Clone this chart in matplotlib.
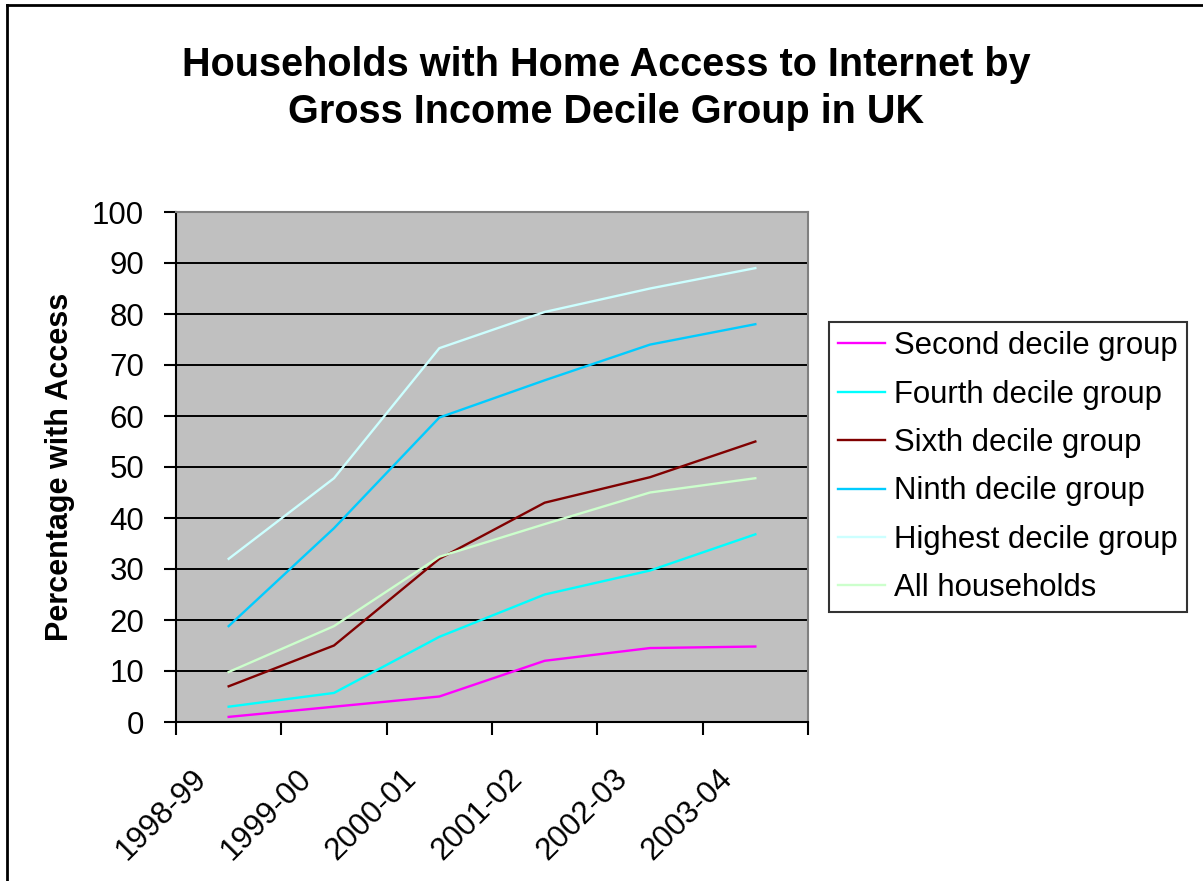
import matplotlib
matplotlib.use('Agg')
import matplotlib.pyplot as plt
import matplotlib.transforms as mtransforms
from matplotlib.lines import Line2D
import numpy as np

plt.rcParams['font.family'] = ['Liberation Sans', 'DejaVu Sans']

years = ['1998-99', '1999-00', '2000-01', '2001-02', '2002-03', '2003-04']

second = [1, 3, 5, 12, 14.5, 14.8]
fourth = [3, 5.7, 16.7, 25, 29.7, 36.8]
sixth = [7, 15, 32, 43, 48, 55]
ninth = [18.8, 38, 59.7, 67, 74, 78]
highest = [32, 47.8, 73.3, 80.4, 85, 89]
all_hh = [9.8, 18.8, 32.4, 38.8, 45, 47.8]

series = [
    ('Second decile group', second, '#FF00FF'),
    ('Fourth decile group', fourth, '#00FFFF'),
    ('Sixth decile group', sixth, '#800000'),
    ('Ninth decile group', ninth, '#00CCFF'),
    ('Highest decile group', highest, '#CCFFFF'),
    ('All households', all_hh, '#CCFFCC'),
]

W, H = 1203, 881
fig = plt.figure(figsize=(W / 100, H / 100), dpi=100)
ax = fig.add_axes([176 / W, 1 - 722 / H, (808 - 176) / W, (722 - 212) / H])
ax.set_facecolor('#C0C0C0')

x = np.arange(len(years))
for name, vals, col in series:
    ax.plot(x, vals, color=col, lw=1.7, label=name, zorder=3)

ax.set_xlim(-0.5, len(years) - 0.5)
ax.set_ylim(0, 100)
ax.set_yticks(np.arange(0, 101, 10))
for v in range(10, 100, 10):
    ax.axhline(v, color='black', lw=1.4, zorder=2)

for s in ['top', 'right']:
    ax.spines[s].set_color('#808080')
    ax.spines[s].set_linewidth(1.5)
for s in ['left', 'bottom']:
    ax.spines[s].set_color('black')
    ax.spines[s].set_linewidth(1.5)

ax.tick_params(axis='y', direction='out', length=9, width=1.5, labelsize=22.5, pad=14)

# category boundaries carry tick marks, labels sit at the centres
ax.set_xticks(np.arange(-0.5, len(years), 1.0))
ax.set_xticklabels([])
ax.tick_params(axis='x', which='major', direction='out', length=9, width=1.5)
ax.set_xticks(x, minor=True)
ax.set_xticklabels(years, minor=True, rotation=45, ha='right', va='center',
                   rotation_mode='anchor', fontsize=22.5)
ax.tick_params(axis='x', which='minor', length=0, pad=0)
off = mtransforms.ScaledTranslation(-27 / 100, -52 / 100, fig.dpi_scale_trans)
for lab in ax.get_xticklabels(minor=True):
    lab.set_transform(lab.get_transform() + off)

ax.set_ylabel('Percentage with Access', fontsize=22, fontweight='bold', labelpad=12)

fig.text(0.504, 0.899, 'Households with Home Access to Internet by\nGross Income Decile Group in UK',
         ha='center', va='center', fontsize=28.5, fontweight='bold', linespacing=1.3)

leg = fig.legend(loc='upper left', bbox_to_anchor=(829 / W, 1 - 322 / H), borderaxespad=0,
                 fontsize=22.4, frameon=True, fancybox=False, edgecolor='black',
                 handlelength=1.5, handletextpad=0.3, labelspacing=0.59,
                 borderpad=0.3)
leg.get_frame().set_linewidth(1.5)

# outer chart border (only top and left visible in the original)
fig.add_artist(Line2D([7 / W, 7 / W], [0, 1 - 5 / H], color='black', lw=2, transform=fig.transFigure))
fig.add_artist(Line2D([7 / W, 1], [1 - 5 / H, 1 - 5 / H], color='black', lw=2, transform=fig.transFigure))

fig.savefig('out.png', dpi=100)
